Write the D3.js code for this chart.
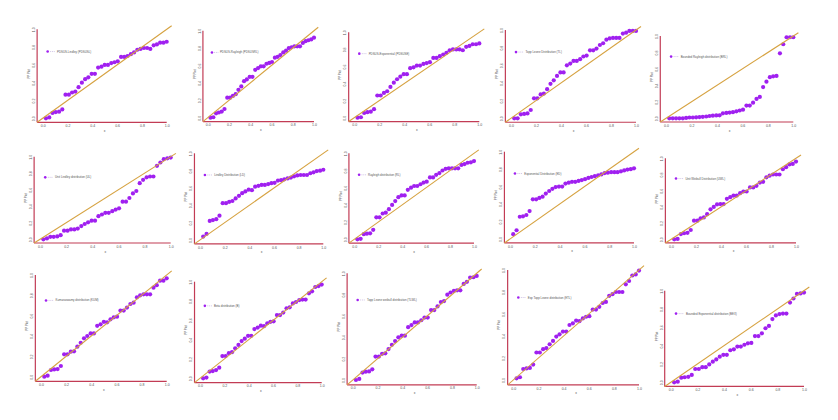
<!DOCTYPE html>
<html>
<head>
<meta charset="utf-8">
<script src="https://cdn.jsdelivr.net/npm/d3@7"></script>
<style>
  body { margin: 0; background: #fff; }
  text { font-family: "Liberation Sans", Arial, sans-serif; }
</style>
</head>
<body>
<div id="chart"></div>
<script>
// Taille de la page
const width = 838;
const height = 420;

// Probabilités empiriques (axe x), communes à tous les panneaux
const probs = [0.026, 0.053, 0.079, 0.105, 0.132, 0.158, 0.184, 0.211, 0.237, 0.263,
  0.289, 0.316, 0.342, 0.368, 0.395, 0.421, 0.447, 0.474, 0.5, 0.526,
  0.553, 0.579, 0.605, 0.632, 0.658, 0.684, 0.711, 0.737, 0.763, 0.789,
  0.816, 0.842, 0.868, 0.895, 0.921, 0.947, 0.974, 1.0];

const tickValues = [0, 0.2, 0.4, 0.6, 0.8, 1.0];

const names = [
  "PDSUS-Lindley (PDSUSL)",
  "PDSUS-Rayleigh (PDSUSRL)",
  "PDSUS-Exponential (PDSUSE)",
  "Topp Leone Distribution (TL)",
  "Bounded Rayleigh distribution (BRL)",
  "Unit Lindley distribution (UL)",
  "Lindley Distribution (LD)",
  "Rayleigh distribution (RL)",
  "Exponential Distribution (ED)",
  "Unit Weibull Distribution (UWL)",
  "Kumaraswamy distribution (KUM)",
  "Beta distribution (B)",
  "Topp Leone weibull distribution (TLWL)",
  "Exp Topp Leone distribution (ETL)",
  "Bounded Exponential distribution (BEX)"
];

// Valeurs PP, une liste par loi
const ppPDSUSL = [0.00, 0.01, 0.06, 0.07, 0.075, 0.10, 0.265, 0.265, 0.29, 0.30,
  0.35, 0.40, 0.44, 0.46, 0.50, 0.50, 0.57, 0.58, 0.60, 0.60,
  0.62, 0.63, 0.64, 0.69, 0.69, 0.70, 0.72, 0.74, 0.77, 0.78,
  0.79, 0.79, 0.78, 0.82, 0.83, 0.85, 0.85, 0.86];
const ppPDSUSRL = [0.00, 0.005, 0.05, 0.06, 0.07, 0.10, 0.23, 0.23, 0.25, 0.27,
  0.32, 0.36, 0.42, 0.44, 0.47, 0.47, 0.55, 0.57, 0.59, 0.59,
  0.62, 0.63, 0.64, 0.69, 0.70, 0.72, 0.75, 0.77, 0.80, 0.81,
  0.82, 0.82, 0.82, 0.86, 0.88, 0.89, 0.90, 0.92];
const ppPDSUSE = [0.00, 0.005, 0.055, 0.065, 0.07, 0.10, 0.26, 0.26, 0.29, 0.31,
  0.36, 0.41, 0.45, 0.48, 0.51, 0.51, 0.58, 0.59, 0.61, 0.61,
  0.63, 0.64, 0.65, 0.70, 0.70, 0.72, 0.74, 0.76, 0.79, 0.80,
  0.80, 0.80, 0.79, 0.83, 0.84, 0.86, 0.86, 0.87];
const ppTL = [0.00, 0.00, 0.045, 0.05, 0.055, 0.094, 0.226, 0.226, 0.27, 0.28,
  0.33, 0.39, 0.43, 0.48, 0.52, 0.52, 0.60, 0.62, 0.65, 0.65,
  0.67, 0.70, 0.71, 0.77, 0.77, 0.79, 0.83, 0.85, 0.89, 0.905,
  0.91, 0.91, 0.91, 0.96, 0.97, 0.99, 0.99, 0.99];
const ppBRL = [0.00, 0.00, 0.00, 0.00, 0.00, 0.005, 0.01, 0.01, 0.012, 0.015,
  0.018, 0.022, 0.028, 0.032, 0.035, 0.036, 0.06, 0.065, 0.07, 0.075,
  0.085, 0.095, 0.105, 0.155, 0.155, 0.19, 0.235, 0.26, 0.38, 0.445,
  0.50, 0.51, 0.515, 0.79, 0.90, 0.985, 0.985, 0.985];
const ppUL = [0.00, 0.01, 0.03, 0.03, 0.035, 0.05, 0.105, 0.105, 0.12, 0.12,
  0.13, 0.16, 0.185, 0.205, 0.225, 0.225, 0.28, 0.30, 0.32, 0.32,
  0.34, 0.36, 0.375, 0.455, 0.455, 0.50, 0.555, 0.585, 0.68, 0.72,
  0.75, 0.76, 0.76, 0.89, 0.93, 0.97, 0.98, 0.99];
const ppLD = [0.04, 0.07, 0.22, 0.23, 0.24, 0.28, 0.425, 0.425, 0.44, 0.45,
  0.48, 0.51, 0.54, 0.56, 0.58, 0.575, 0.615, 0.625, 0.635, 0.635,
  0.645, 0.655, 0.66, 0.685, 0.69, 0.70, 0.71, 0.72, 0.735, 0.745,
  0.75, 0.75, 0.75, 0.77, 0.78, 0.795, 0.80, 0.81];
const ppRL = [0.00, 0.005, 0.06, 0.065, 0.07, 0.11, 0.255, 0.255, 0.30, 0.31,
  0.35, 0.40, 0.445, 0.49, 0.51, 0.51, 0.575, 0.60, 0.62, 0.62,
  0.64, 0.66, 0.67, 0.72, 0.72, 0.75, 0.77, 0.80, 0.82, 0.825,
  0.825, 0.825, 0.825, 0.865, 0.875, 0.89, 0.895, 0.91];
const ppED = [0.055, 0.10, 0.255, 0.26, 0.275, 0.32, 0.455, 0.455, 0.47, 0.485,
  0.52, 0.55, 0.575, 0.595, 0.60, 0.60, 0.635, 0.645, 0.655, 0.655,
  0.665, 0.675, 0.685, 0.70, 0.71, 0.72, 0.73, 0.74, 0.755, 0.76,
  0.765, 0.765, 0.765, 0.775, 0.785, 0.795, 0.80, 0.81];
const ppUW = [0.00, 0.005, 0.065, 0.075, 0.08, 0.115, 0.23, 0.23, 0.26, 0.27,
  0.31, 0.37, 0.40, 0.43, 0.435, 0.435, 0.50, 0.52, 0.54, 0.54,
  0.57, 0.59, 0.59, 0.64, 0.64, 0.66, 0.70, 0.71, 0.765, 0.785,
  0.80, 0.80, 0.80, 0.865, 0.89, 0.925, 0.93, 0.96];
const ppKUM = [0.00, 0.01, 0.066, 0.072, 0.075, 0.105, 0.22, 0.22, 0.246, 0.25,
  0.295, 0.334, 0.377, 0.40, 0.426, 0.426, 0.50, 0.515, 0.54, 0.535,
  0.564, 0.584, 0.59, 0.65, 0.65, 0.68, 0.715, 0.728, 0.78, 0.80,
  0.81, 0.81, 0.81, 0.875, 0.90, 0.944, 0.944, 0.967];
const ppB = [0.00, 0.007, 0.07, 0.075, 0.085, 0.11, 0.23, 0.23, 0.26, 0.27,
  0.31, 0.345, 0.385, 0.41, 0.44, 0.44, 0.51, 0.525, 0.545, 0.54,
  0.57, 0.585, 0.59, 0.655, 0.655, 0.68, 0.725, 0.735, 0.775, 0.79,
  0.81, 0.815, 0.815, 0.88, 0.90, 0.945, 0.955, 0.97];
const ppTLWL = [0.00, 0.01, 0.07, 0.078, 0.08, 0.10, 0.22, 0.22, 0.245, 0.25,
  0.29, 0.33, 0.365, 0.40, 0.415, 0.415, 0.495, 0.515, 0.54, 0.54,
  0.56, 0.585, 0.585, 0.655, 0.655, 0.69, 0.73, 0.74, 0.80, 0.82,
  0.835, 0.84, 0.84, 0.90, 0.92, 0.96, 0.963, 0.975];
const ppETL = [0.015, 0.025, 0.10, 0.105, 0.11, 0.14, 0.25, 0.25, 0.28, 0.29,
  0.325, 0.355, 0.395, 0.415, 0.44, 0.44, 0.50, 0.515, 0.54, 0.535,
  0.56, 0.575, 0.58, 0.64, 0.64, 0.665, 0.70, 0.71, 0.765, 0.78,
  0.80, 0.80, 0.80, 0.87, 0.90, 0.95, 0.96, 0.995];
const ppBEX = [0.00, 0.007, 0.05, 0.055, 0.06, 0.08, 0.145, 0.145, 0.165, 0.165,
  0.195, 0.225, 0.25, 0.28, 0.30, 0.30, 0.35, 0.36, 0.39, 0.39,
  0.41, 0.425, 0.43, 0.505, 0.505, 0.535, 0.59, 0.615, 0.69, 0.73,
  0.745, 0.75, 0.75, 0.87, 0.915, 0.965, 0.97, 0.98];

const series = [ppPDSUSL, ppPDSUSRL, ppPDSUSE, ppTL, ppBRL,
  ppUL, ppLD, ppRL, ppED, ppUW,
  ppKUM, ppB, ppTLWL, ppETL, ppBEX];

// Position (en pixels) des valeurs 0 et 1 sur chaque panneau
const panels = [
  { x0: 42.7, x1: 166.7, y0: 118.3, y1: 29.3 },
  { x0: 207.7, x1: 314, y0: 117.7, y1: 30.7 },
  { x0: 354.3, x1: 479.3, y0: 117.7, y1: 32.3 },
  { x0: 511, x1: 636, y0: 118.3, y1: 30 },
  { x0: 666, x1: 793.3, y0: 118.3, y1: 36 },
  { x0: 40, x1: 170.7, y0: 239.3, y1: 156.7 },
  { x0: 200, x1: 323.3, y0: 240, y1: 153.3 },
  { x0: 354.3, x1: 474, y0: 239.3, y1: 153.3 },
  { x0: 510, x1: 634, y0: 239, y1: 151.7 },
  { x0: 671, x1: 796, y0: 239.3, y1: 158.3 },
  { x0: 41, x1: 166.7, y0: 376.7, y1: 275 },
  { x0: 200, x1: 321.7, y0: 378.3, y1: 281.7 },
  { x0: 352.7, x1: 476.7, y0: 380, y1: 273.3 },
  { x0: 513.3, x1: 639, y0: 380, y1: 270 },
  { x0: 670.7, x1: 804, y0: 382.3, y1: 290.7 }
];

const pointColor = "#a020f0";
const lineColor = "#d6a240";
const axisColor = "#c23c55";
const labelColor = "#555";
const lo = -0.045, hi = 1.04;

const svg = d3.select("#chart")
  .append("svg")
  .attr("width", width)
  .attr("height", height);

panels.forEach((p, k) => {
  const x = d3.scaleLinear().domain([0, 1]).range([p.x0, p.x1]);
  const y = d3.scaleLinear().domain([0, 1]).range([p.y0, p.y1]);
  const g = svg.append("g");

  // Axes (lignes rouges à gauche et en bas)
  g.append("line")
    .attr("x1", x(lo)).attr("x2", x(lo))
    .attr("y1", y(1)).attr("y2", y(lo))
    .attr("stroke", axisColor).attr("stroke-width", 1.2);
  g.append("line")
    .attr("x1", x(lo)).attr("x2", x(1))
    .attr("y1", y(lo)).attr("y2", y(lo))
    .attr("stroke", axisColor).attr("stroke-width", 1.2);

  const xAxis = g.append("g")
    .attr("transform", `translate(0,${y(lo)})`)
    .call(d3.axisBottom(x).tickValues(tickValues).tickFormat(d3.format(".1f"))
      .tickSize(0).tickPadding(2.2));
  xAxis.select(".domain").remove();
  xAxis.selectAll("text")
    .attr("fill", labelColor)
    .style("font-size", "3.5px");

  const yAxis = g.append("g")
    .attr("transform", `translate(${x(lo)},0)`)
    .call(d3.axisLeft(y).tickValues(tickValues).tickFormat(d3.format(".1f"))
      .tickSize(0));
  yAxis.select(".domain").remove();
  yAxis.selectAll("text")
    .attr("x", 0).attr("dy", 0)
    .attr("text-anchor", "middle")
    .attr("transform", "translate(-2.2,0) rotate(-90)")
    .attr("fill", labelColor)
    .style("font-size", "3.5px");

  // Titres des axes
  g.append("text")
    .attr("x", (x(0) + x(1)) / 2)
    .attr("y", y(lo) + 9.5)
    .attr("text-anchor", "middle")
    .attr("fill", labelColor)
    .style("font-size", "3.4px")
    .text("x");

  g.append("text")
    .attr("transform", `translate(${x(lo) - 7.2},${(y(0) + y(1)) / 2}) rotate(-90)`)
    .attr("text-anchor", "middle")
    .attr("fill", labelColor)
    .style("font-size", "2.9px")
    .text("PP Plot");

  // Points
  g.selectAll(".point")
    .data(series[k])
    .enter()
    .append("circle")
    .attr("class", "point")
    .attr("cx", (d, i) => x(probs[i]))
    .attr("cy", d => y(d))
    .attr("r", 2.1)
    .attr("fill", pointColor);

  // Première bissectrice
  g.append("line")
    .attr("x1", x(lo)).attr("y1", y(lo))
    .attr("x2", x(hi)).attr("y2", y(hi))
    .attr("stroke", lineColor).attr("stroke-width", 1.1);

  // Légende
  const ly = y(0.75);
  g.append("circle")
    .attr("cx", x(0.04)).attr("cy", ly).attr("r", 1.3)
    .attr("fill", pointColor);
  g.append("line")
    .attr("x1", x(0.06)).attr("x2", x(0.1))
    .attr("y1", ly).attr("y2", ly)
    .attr("stroke", "#a68fcc").attr("stroke-width", 0.5)
    .attr("stroke-dasharray", "1,0.8");
  g.append("text")
    .attr("x", x(0.115)).attr("y", ly + 1)
    .attr("fill", labelColor)
    .style("font-size", "2.9px")
    .text(names[k]);
});
</script>
</body>
</html>
